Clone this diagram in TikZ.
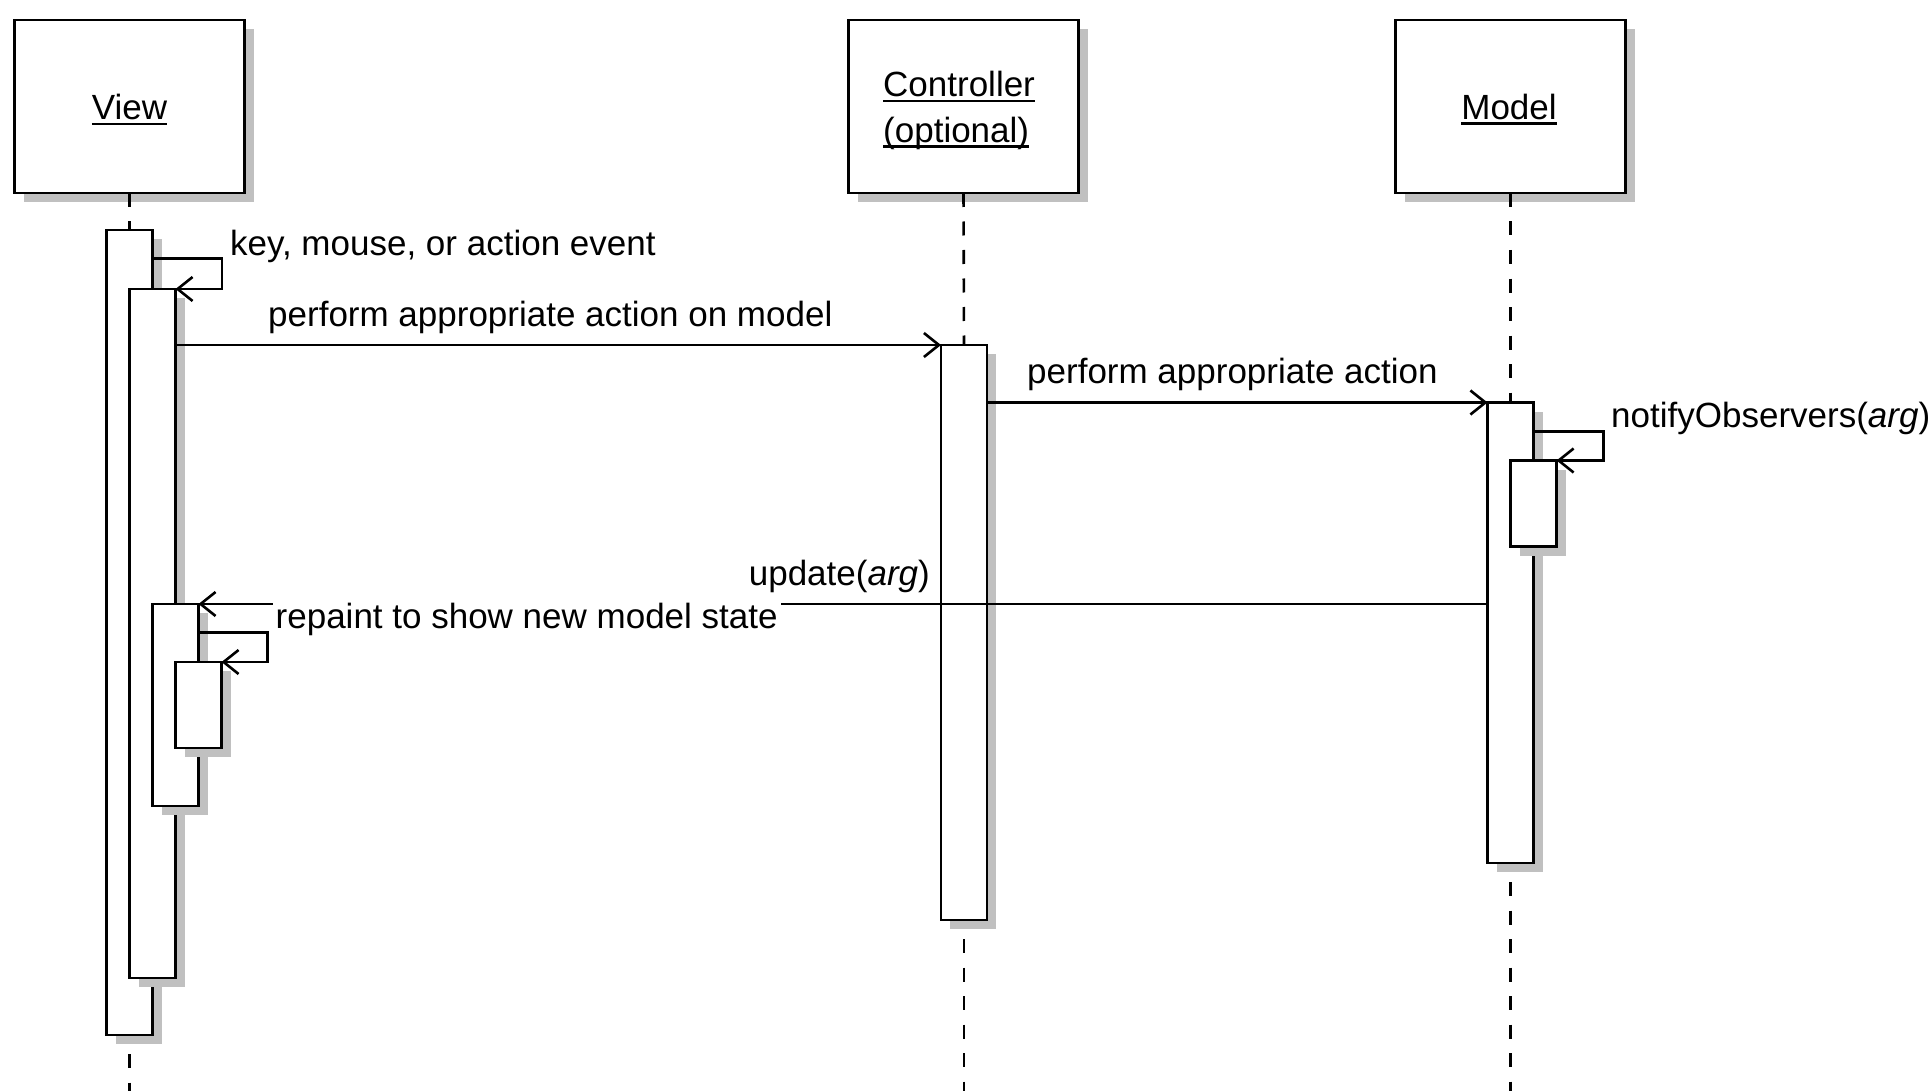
\documentclass[tikz,border=0pt]{standalone}
\usepackage{fontspec}
\setmainfont{Liberation Sans}
\usetikzlibrary{arrows.meta,shadows,calc}
\definecolor{shgray}{RGB}{192,192,192}
% underlined object name (UML instance notation)
\newcommand\ulbl[1]{\setbox0\hbox{#1}\rlap{\rule[-5.5pt]{\wd0}{2.6pt}}\box0}

\begin{document}
\begin{tikzpicture}[x=1pt,y=-1pt,
  every node/.style={font=\fontsize{35}{42}\selectfont},
  ln/.style={line width=2.6pt},
  boxshadow/.style={drop shadow={shadow xshift=9pt,shadow yshift=-9pt,fill=shgray,opacity=1}},
  head/.style={ln,draw,fill=white,minimum width=230pt,minimum height=173pt,inner sep=0pt,outer sep=0pt,boxshadow},
  act/.style={ln,draw,fill=white,minimum width=46pt,inner sep=0pt,outer sep=0pt,anchor=north,boxshadow},
  life/.style={line width=2.6pt,dash pattern=on 14pt off 14.5pt},
  msg/.style={ln,-{Straight Barb[length=15pt,width=24pt]}},
  lbl/.style={anchor=base west,inner sep=0pt},
  txt/.style={inner sep=0pt},
]
\useasboundingbox (0,0) rectangle (1929,1091);
\fill[white] (0,0) rectangle (1929,1091);
\coordinate (bot) at (0,1091);

% object heads
\node[head] (view)  at (129.5,106.5) {};
\node[head] (ctrl)  at (963.5,106.5) {};
\node[head] (model) at (1510.5,106.5) {};
\node[txt,anchor=base] (viewname) at (129.5,120) {\ulbl{View}};
\node[txt,anchor=base west] (ctrlname) at (883,97) {\ulbl{Controller}};
\node[txt,anchor=base west] (ctrlopt)  at (883,142.5) {\ulbl{(optional)}};
\node[txt,anchor=base] (modelname) at (1509,119.5) {\ulbl{Model}};

% activation bars
\node[act,minimum height=805pt] (a1) at (129.5,230) {};
\node[act,minimum height=689pt] (a2) at (152.5,289) {};
\node[act,minimum height=202pt] (a3) at (175.5,604) {};
\node[act,minimum height=86pt]  (a4) at (198.5,662) {};
\node[act,minimum height=575pt] (c1) at (964,345) {};
\node[act,minimum height=460.5pt] (m1) at (1510.5,402.5) {};
\node[act,minimum height=86pt]  (m2) at (1533.5,460.5) {};

% lifelines
\draw[life] (view.south) -- (a1.north);
\draw[life] ($(a1.south)+(0,19)$) -- (a1.south |- bot);
\draw[life] (ctrl.south) -- (c1.north);
\draw[life] ($(c1.south)+(0,19)$) -- (c1.south |- bot);
\draw[life] (model.south) -- (m1.north);
\draw[life] ($(m1.south)+(0,19)$) -- (m1.south |- bot);

% messages
\draw[msg] ($(a1.north east)+(0,28.5)$) -- ++(69.5,0) |- (a2.north east);
\node[lbl] (evt) at (230,255) {key, mouse, or action event};

\draw[msg] (a2.east |- c1.north west) -- (c1.north west);
\node[lbl] (act1) at (268,326) {perform appropriate action on model};

\draw[msg] (c1.east |- m1.north west) -- (m1.north west);
\node[lbl] (act2) at (1027,383) {perform appropriate action};

\draw[msg] ($(m1.north east)+(0,29)$) -- ++(70,0) |- (m2.north east);
\node[lbl] (notify) at (1611,427) {notifyObservers(\textit{arg})};

\draw[msg] (m1.west |- a3.north east) -- (a3.north east);
\node[txt,anchor=base east] (update) at (930,585) {update(\textit{arg})};

\draw[msg] ($(a3.north east)+(0,28.7)$) -- ++(69,0) |- (a4.north east);
\node[lbl,fill=white,inner xsep=3pt,inner ysep=2pt] (repaint) at (272.5,628) {repaint to show new model state};
\end{tikzpicture}
\end{document}
